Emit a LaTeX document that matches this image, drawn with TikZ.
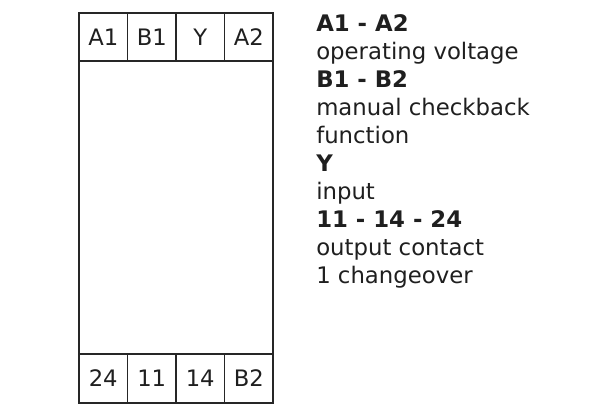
\documentclass[tikz,border=0pt]{standalone}
\usepackage{fontspec}
\setmainfont{DejaVu Sans}
\begin{document}
\begin{tikzpicture}[x=0.75pt,y=-0.75pt,
  frame/.style={draw=black!85,line width=1.1pt},
  cell/.style={font=\fontsize{17pt}{21pt}\selectfont,text=black!88,inner sep=0pt},
  desc/.style={anchor=base west,font=\fontsize{17.1pt}{21pt}\selectfont,text=black!88,inner sep=0pt},
  head/.style={desc,font=\fontsize{17.1pt}{21pt}\selectfont\bfseries}]
\useasboundingbox (0,0) rectangle (608,416);
% outer box
\draw[frame] (79,13) rectangle (273,403);
\draw[frame] (79,61) -- (273,61);
\draw[frame] (79,354) -- (273,354);
\foreach \x in {127.5,176,224.5}{
  \draw[frame] (\x,13) -- (\x,61);
  \draw[frame] (\x,354) -- (\x,403);
}
% terminal labels top
\node[cell] (tA1) at (103.25,37.5) {A1};
\node[cell] (tB1) at (151.75,37.5) {B1};
\node[cell] (tY)  at (200.25,37.5) {Y};
\node[cell] (tA2) at (248.75,37.5) {A2};
% terminal labels bottom
\node[cell] (b24) at (103.25,378.5) {24};
\node[cell] (b11) at (151.75,378.5) {11};
\node[cell] (b14) at (200.25,378.5) {14};
\node[cell] (bB2) at (248.75,378.5) {B2};
% description
\node[head] (d1)  at (316,32)  {A1 - A2};
\node[desc] (d2)  at (316,60)  {operating voltage};
\node[head] (d3)  at (316,88)  {B1 - B2};
\node[desc] (d4)  at (316,116) {manual checkback};
\node[desc] (d5)  at (316,144) {function};
\node[head] (d6)  at (316,172) {Y};
\node[desc] (d7)  at (316,200) {input};
\node[head] (d8)  at (316,228) {11 - 14 - 24};
\node[desc] (d9)  at (316,256) {output contact};
\node[desc] (d10) at (316,284) {1 changeover};
\end{tikzpicture}
\end{document}
